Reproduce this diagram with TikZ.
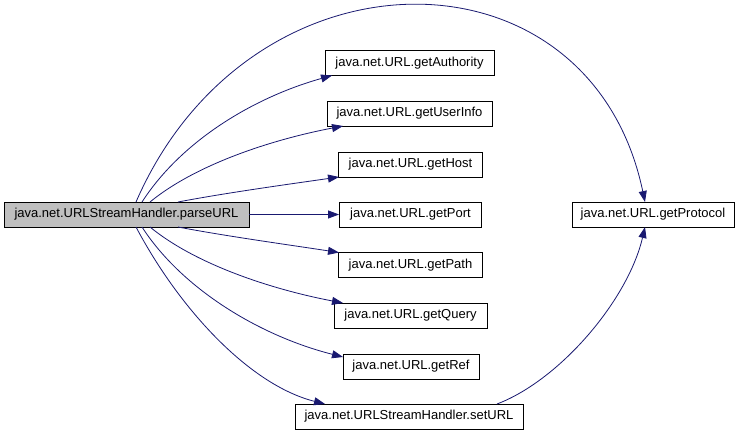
\documentclass[tikz,border=0pt]{standalone}
\usepackage{fontspec}
\setmainfont{Liberation Sans}
\usetikzlibrary{arrows.meta}
\definecolor{edgeblue}{HTML}{191970}
\definecolor{boxgray}{HTML}{BFBFBF}
\tikzset{
  fn/.style={draw=black, line width=0.9pt, fill=white, minimum height=25pt, inner sep=0pt,
    font=\fontsize{13}{15}\selectfont, anchor=center},
  mainfn/.style={fn, fill=boxgray},
  call/.style={draw=edgeblue, line width=0.8pt, -{Triangle[length=11pt,width=8pt]}},
}
\begin{document}
\begin{tikzpicture}[x=1pt,y=-1pt]
\useasboundingbox (0,0) rectangle (743,436);
\node[mainfn, minimum width=245pt] (p) at (126.5,214.5) {java.net.URLStreamHandler.parseURL};
\node[fn, minimum width=169pt] (auth) at (409.5,63) {java.net.URL.getAuthority};
\node[fn, minimum width=165pt] (user) at (409.5,113.5) {java.net.URL.getUserInfo};
\node[fn, minimum width=144pt] (host) at (410.5,164.5) {java.net.URL.getHost};
\node[fn, minimum width=142pt] (port) at (410.5,214.5) {java.net.URL.getPort};
\node[fn, minimum width=144pt] (path) at (410.5,265) {java.net.URL.getPath};
\node[fn, minimum width=153pt] (query) at (410.5,315.5) {java.net.URL.getQuery};
\node[fn, minimum width=136pt] (ref) at (411,366.5) {java.net.URL.getRef};
\node[fn, minimum width=228pt] (set) at (409,416.5) {java.net.URLStreamHandler.setURL};
\node[fn, minimum width=162pt] (prot) at (653,214.5) {java.net.URL.getProtocol};

\coordinate (t1) at (136,202);
\coordinate (t2) at (142,202);
\coordinate (t3) at (150,202);
\coordinate (t4) at (178,202);
\coordinate (b1) at (136,227);
\coordinate (b2) at (142,227);
\coordinate (b3) at (150,227);
\coordinate (b4) at (178,227);
\coordinate (s1) at (497,404);

\draw[call] (t1) .. controls (250,-60) and (590,-60) .. (645,202);
\draw[call] (t2) .. controls (182,140) and (255,97) .. (332,75.5);
\draw[call] (t3) .. controls (195,165) and (270,140) .. (343,126);
\draw[call] (t4) .. controls (225,193) and (290,184) .. (339,177);
\draw[call] (p.east) -- (port.west);
\draw[call] (b4) .. controls (225,236) and (290,245) .. (339,252.5);
\draw[call] (b3) .. controls (195,264) and (270,289) .. (343,303);
\draw[call] (b2) .. controls (182,289) and (260,336) .. (343,357);
\draw[call] (b1) .. controls (180,310) and (250,385) .. (325,404);
\draw[call] (s1) .. controls (560,380) and (628,300) .. (645,227);
\end{tikzpicture}
\end{document}
